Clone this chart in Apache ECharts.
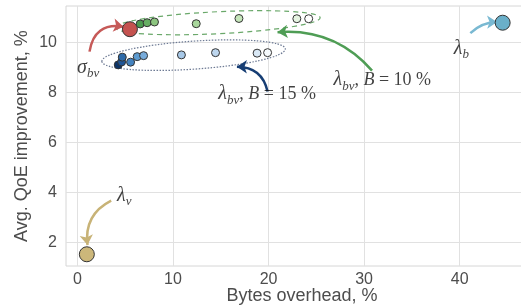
<!doctype html>
<html>
<head>
    <meta charset="utf-8">
    <title>QoE vs bytes overhead</title>
    <script src="https://cdn.jsdelivr.net/npm/echarts@6/dist/echarts.min.js"></script>
    <style>
        html, body { margin: 0; padding: 0; background: #fff; }
        #main { width: 521px; height: 307px; }
    </style>
</head>
<body>
    <div id="main"></div>
<script type="text/javascript">
    // 刻度
    var xTicks = [0, 10, 20, 30, 40];
    var yTicks = [2, 4, 6, 8, 10];

    // lambda_bv, B = 10 %  (绿色)
    var greenX = [6.56, 7.29, 8.06, 12.43, 16.9, 22.96, 24.2];
    var greenY = [10.75, 10.8, 10.83, 10.76, 10.97, 10.96, 10.96];
    // lambda_bv, B = 15 %  (蓝色)
    var blueX = [4.27, 4.62, 4.69, 5.56, 6.25, 6.92, 10.88, 14.45, 18.8, 19.9];
    var blueY = [9.11, 9.23, 9.42, 9.22, 9.44, 9.48, 9.51, 9.6, 9.58, 9.6];
    // 单点
    var sigmaBv = [5.49, 10.54];
    var lambdaB = [44.5, 10.8];
    var lambdaV = [0.98, 1.52];

    // 箭头 (起点, 终点)
    var arrowSigma = [[1.26, 9.64], [4.82, 10.64]];
    var arrowGreen = [[30.83, 8.88], [20.94, 10.42]];
    var arrowBlue = [[19.9, 8.04], [16.69, 9.04]];
    var arrowB = [[41.12, 10.38], [43.92, 10.83]];
    var arrowV = [[3.53, 3.67], [1.05, 1.89]];

    // 椭圆 (左端, 右端)
    var ellipseGreen = [[3.98, 10.60], [25.4, 11.0]];
    var ellipseBlue = [[2.55, 9.25], [21.75, 9.75]];

    // 文字标注位置
    var labelPos = {
        sigma: [1.12, 8.99],
        b10: [31.9, 8.5],
        b15: [19.85, 7.94],
        lb: [40.18, 9.75],
        lv: [4.89, 3.86]
    };
    var labelText = {
        sigma: '{g|σ}{s|bv}',
        b10: '{g|λ}{s|bv}{t|, }{i|B}{t| = 10 %}',
        b15: '{g|λ}{s|bv}{t|, }{i|B}{t| = 15 %}',
        lb: '{g|λ}{s|b}',
        lv: '{g|λ}{s|v}'
    };

    // 颜色 (样式)
    var greenColors = ['#4b9b4f', '#66ae63', '#8cc57f', '#a9d79c', '#c6e6bb', '#e6f4e2', '#ffffff'];
    var blueColors = ['#0c3468', '#1f5596', '#2d6aa9', '#4483c0', '#5d9bd0', '#77abda', '#a7c8e7', '#bdd6ee', '#d9e8f5', '#f6fafd'];

    function pts(xs, ys, colors) {
        var out = [];
        for (var i = 0; i < xs.length; i++) {
            out.push({ value: [xs[i], ys[i]], itemStyle: { color: colors[i] } });
        }
        return out;
    }

    function arrow(coords, color, curve) {
        return {
            type: 'lines',
            coordinateSystem: 'cartesian2d',
            z: 3,
            symbol: ['none', 'arrow'],
            symbolSize: [0, 10],
            lineStyle: { color: color, width: 2.5, opacity: 1, curveness: curve },
            data: [{ coords: coords }],
            silent: true
        };
    }

    var serif = 'Liberation Serif';
    var labelData = [];
    for (var k in labelPos) {
        labelData.push({ name: k, value: labelPos[k] });
    }

    var myChart = echarts.init(document.getElementById('main'));
    var option = {
        animation: false,
        grid: {
            left: 66, width: 472, top: 6, bottom: 41,
            outerBoundsMode: 'none', containLabel: false,
            show: true, borderColor: '#d6d6d6', borderWidth: 1
        },
        xAxis: {
            type: 'value', min: -1.2, max: 48.2,
            name: 'Bytes overhead, %', nameLocation: 'middle', nameGap: 21, nameMoveOverlap: false,
            nameTextStyle: { fontFamily: 'Liberation Sans', fontSize: 18, color: '#4d4d4d' },
            axisLine: { show: false },
            axisTick: { show: false, customValues: xTicks },
            axisLabel: { customValues: xTicks, fontFamily: 'Liberation Sans', fontSize: 16, color: '#4d4d4d', margin: 6 },
            splitLine: { show: true, lineStyle: { color: '#e1e1e1', width: 1 } }
        },
        yAxis: {
            type: 'value', min: 1.05, max: 11.47,
            name: 'Avg. QoE improvement, %', nameLocation: 'middle', nameGap: 35, nameMoveOverlap: false,
            nameTextStyle: { fontFamily: 'Liberation Sans', fontSize: 18, color: '#4d4d4d' },
            axisLine: { show: false },
            axisTick: { show: false, customValues: yTicks },
            axisLabel: { customValues: yTicks, fontFamily: 'Liberation Sans', fontSize: 16, color: '#4d4d4d', margin: 9 },
            splitLine: { show: true, lineStyle: { color: '#e1e1e1', width: 1 } }
        },
        series: [
            {
                type: 'scatter', symbolSize: 8, z: 4,
                itemStyle: { borderColor: '#333', borderWidth: 1, opacity: 1 },
                data: pts(blueX, blueY, blueColors)
            },
            {
                type: 'scatter', symbolSize: 15, z: 4,
                itemStyle: { color: '#c4524f', borderColor: '#333', borderWidth: 1, opacity: 1 },
                data: [sigmaBv]
            },
            {
                type: 'scatter', symbolSize: 8, z: 5,
                itemStyle: { borderColor: '#333', borderWidth: 1, opacity: 1 },
                data: pts(greenX, greenY, greenColors)
            },
            {
                type: 'scatter', symbolSize: 15, z: 4,
                itemStyle: { color: '#6aafc9', borderColor: '#333', borderWidth: 1, opacity: 1 },
                data: [lambdaB]
            },
            {
                type: 'scatter', symbolSize: 15, z: 4,
                itemStyle: { color: '#ccb77a', borderColor: '#333', borderWidth: 1, opacity: 1 },
                data: [lambdaV]
            },
            arrow(arrowSigma, '#c65a58', 0.5),
            arrow(arrowGreen, '#4f9d55', -0.25),
            arrow(arrowBlue, '#173e74', -0.4),
            arrow(arrowB, '#7ab9d2', 0.2),
            arrow(arrowV, '#c8b377', -0.35),
            {
                type: 'scatter', symbolSize: 0, z: 6, silent: true,
                data: labelData,
                label: {
                    show: true, position: 'inside',
                    formatter: function (p) { return labelText[p.name]; },
                    rich: {
                        g: { fontFamily: serif, fontStyle: 'italic', fontSize: 20, lineHeight: 25, color: '#111' },
                        s: { fontFamily: serif, fontStyle: 'italic', fontSize: 13, lineHeight: 13, verticalAlign: 'bottom', color: '#111' },
                        i: { fontFamily: serif, fontStyle: 'italic', fontSize: 18, lineHeight: 25, color: '#111' },
                        t: { fontFamily: serif, fontSize: 18, lineHeight: 25, color: '#111' }
                    }
                }
            }
        ]
    };
    myChart.setOption(option);

    // 椭圆: 用坐标转换得到像素位置
    function ellipse(ends, ry, dash, color) {
        var a = myChart.convertToPixel({ gridIndex: 0 }, ends[0]);
        var b = myChart.convertToPixel({ gridIndex: 0 }, ends[1]);
        var cx = (a[0] + b[0]) / 2, cy = (a[1] + b[1]) / 2;
        var rx = Math.sqrt((b[0] - a[0]) * (b[0] - a[0]) + (b[1] - a[1]) * (b[1] - a[1])) / 2;
        var ang = Math.atan2(b[1] - a[1], b[0] - a[0]);
        return {
            type: 'ellipse', x: cx, y: cy, rotation: -ang, z: 1, silent: true,
            shape: { cx: 0, cy: 0, rx: rx, ry: ry },
            style: { fill: null, stroke: color, lineWidth: 1.2, lineDash: dash }
        };
    }
    myChart.setOption({
        graphic: [
            ellipse(ellipseGreen, 11, [5, 4], '#6aa86a'),
            ellipse(ellipseBlue, 14, [1.5, 1.5], '#6d7a94')
        ]
    });
</script>
</body>
</html>
